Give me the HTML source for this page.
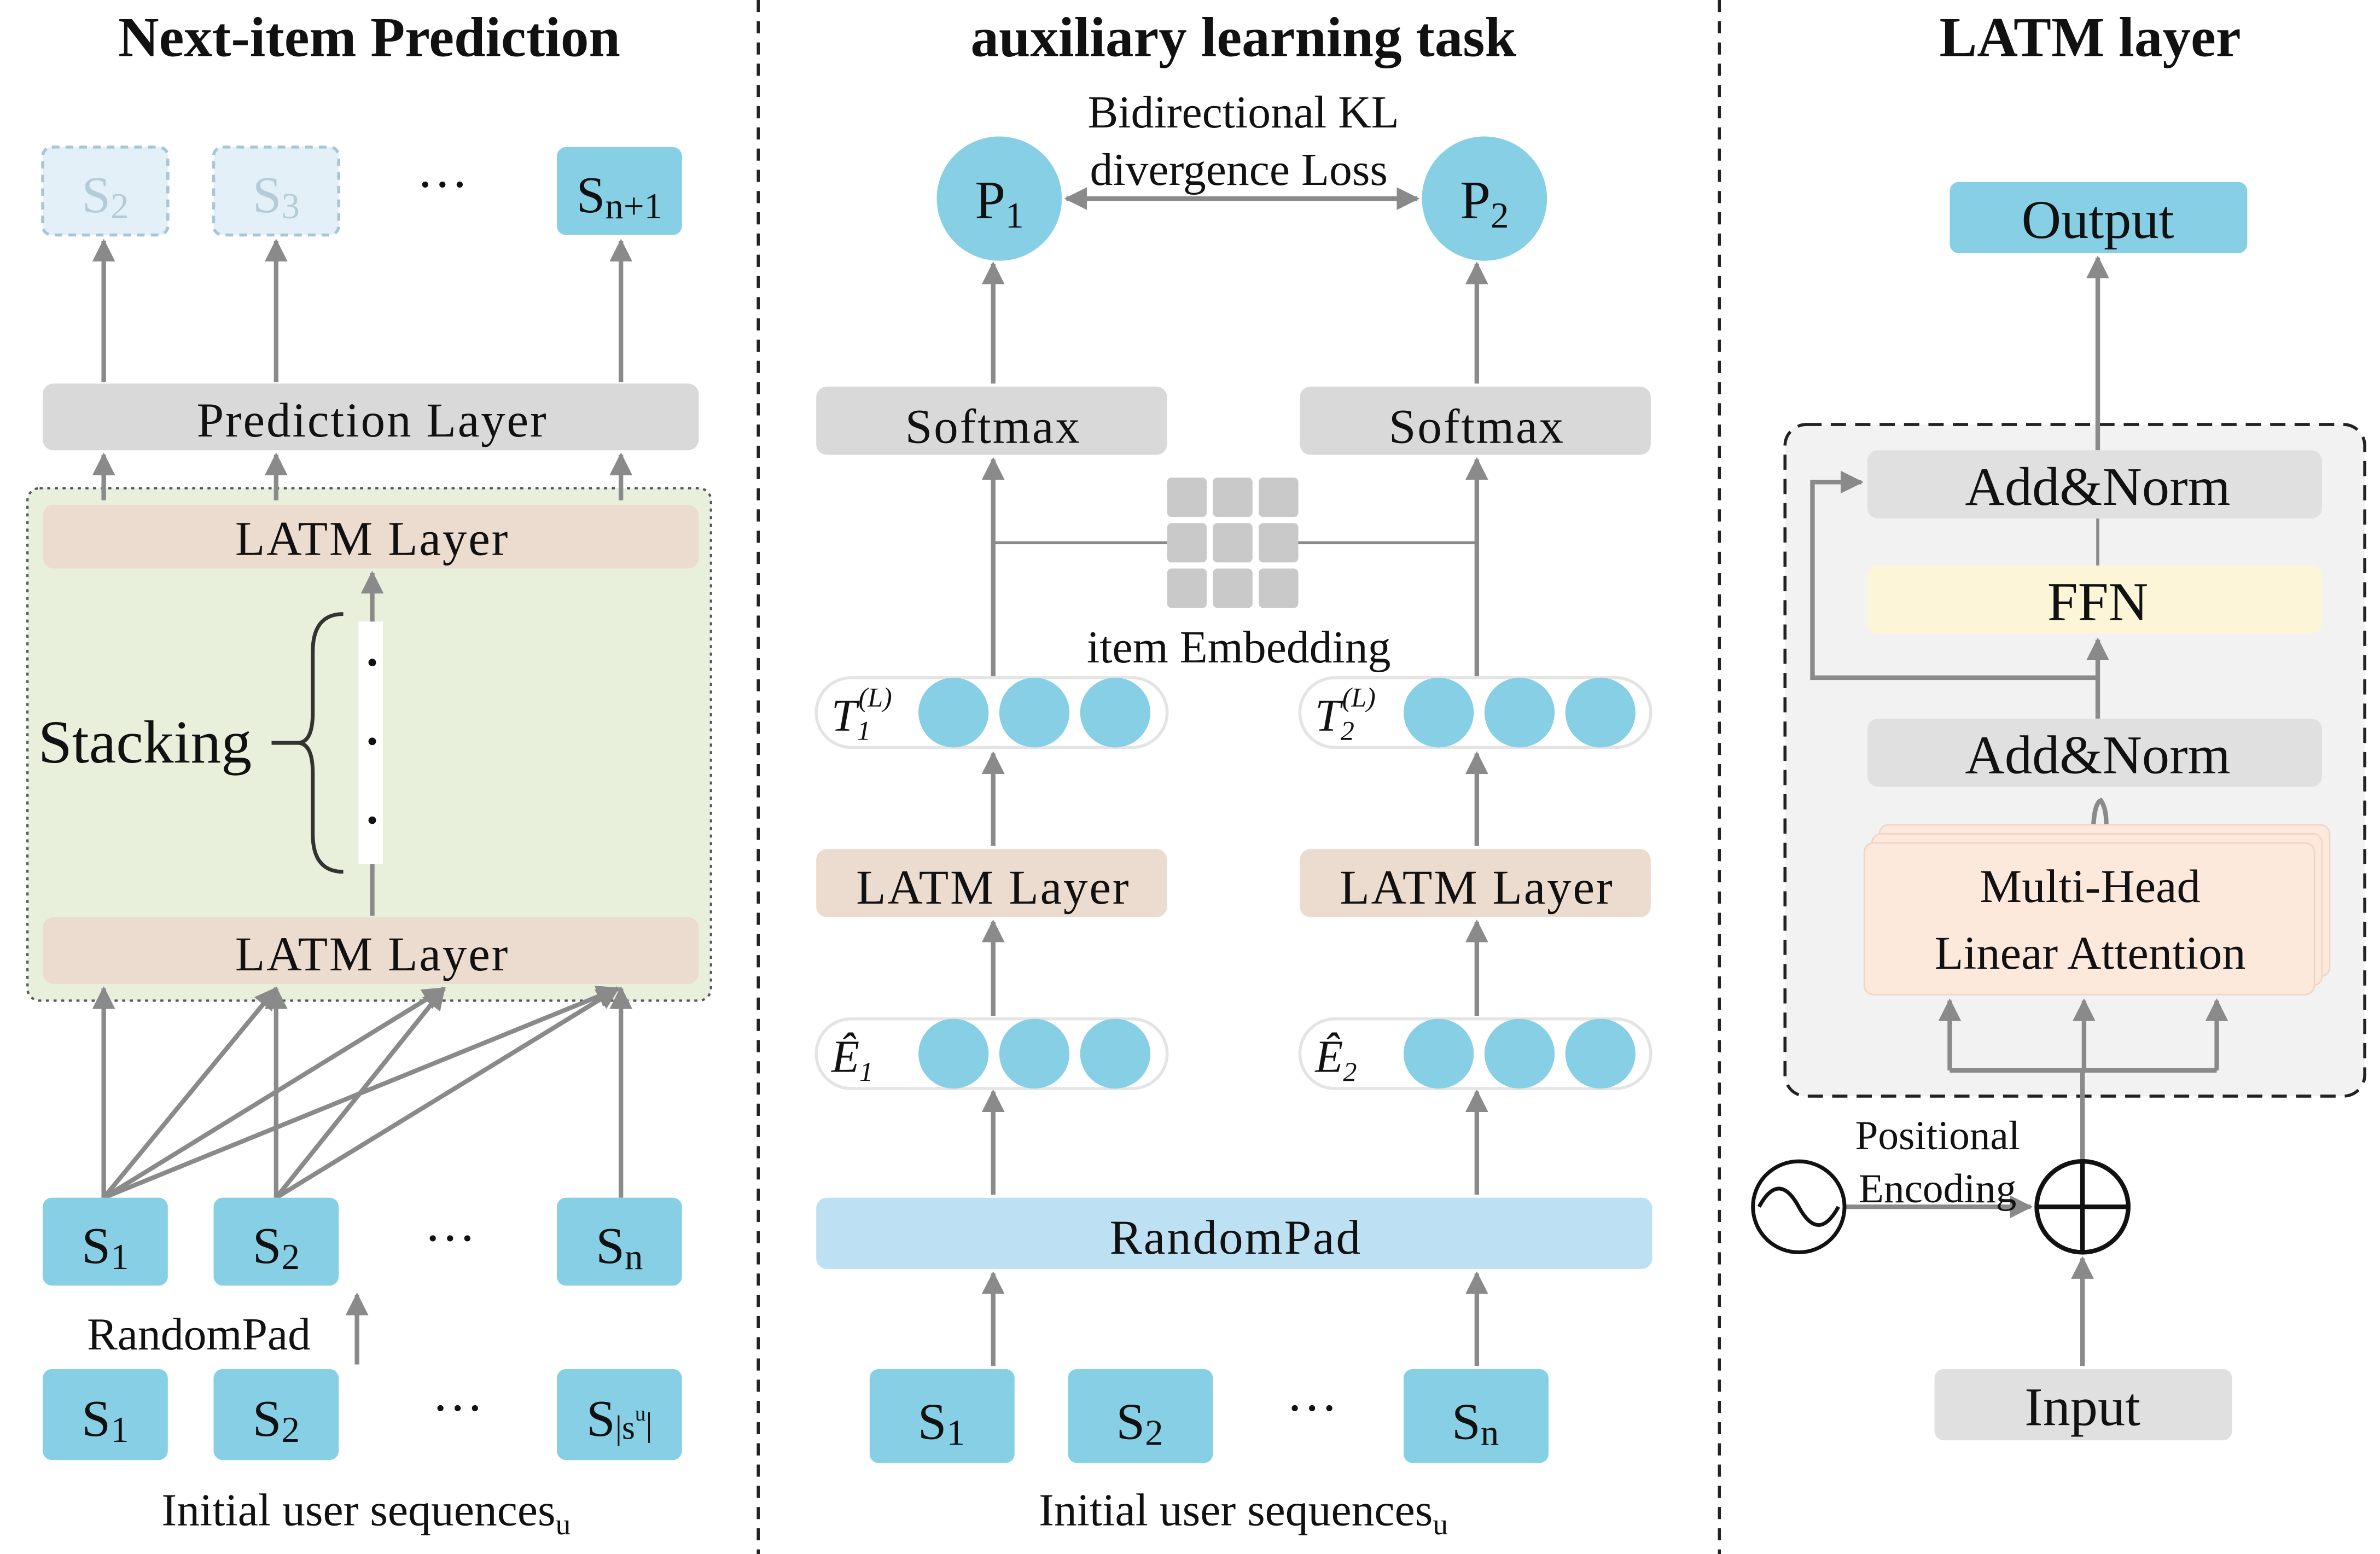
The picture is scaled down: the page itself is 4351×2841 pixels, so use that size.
<!DOCTYPE html>
<html><head><meta charset="utf-8"><style>
html,body{margin:0;padding:0;background:#fff;}
svg{display:block;}
text{font-family:"Liberation Serif",serif;fill:#111;}
</style></head><body>
<svg width="4351" height="2841" viewBox="0 0 1560 1025" preserveAspectRatio="none" xmlns="http://www.w3.org/2000/svg">
<defs>
<marker id="a" viewBox="0 0 10 10" refX="9" refY="5" markerWidth="5" markerHeight="5" orient="auto-start-reverse"><path d="M0,0 L10,5 L0,10 z" fill="#8a8a8a"/></marker>
</defs>
<rect width="1560" height="1025" fill="#fff"/>
<g stroke="#222" stroke-width="2" stroke-dasharray="8,6"><line x1="497" y1="0" x2="497" y2="1025"/><line x1="1127" y1="0" x2="1127" y2="1025"/></g>

<!-- LEFT -->
<text x="242" y="37" font-size="37" font-weight="bold" text-anchor="middle">Next-item Prediction</text>
<g stroke="#a9c6d6" stroke-width="2" stroke-dasharray="5,4" fill="#e3f0f7"><rect x="28" y="97" width="82" height="58" rx="6"/><rect x="140" y="97" width="82" height="58" rx="6"/></g>
<text x="69" y="140" font-size="34" text-anchor="middle" style="fill:#b5ccd8">S<tspan font-size="24" dy="4">2</tspan></text>
<text x="181" y="140" font-size="34" text-anchor="middle" style="fill:#b5ccd8">S<tspan font-size="24" dy="4">3</tspan></text>
<text x="290" y="133" font-size="34" text-anchor="middle">···</text>
<rect x="365" y="97" width="82" height="58" rx="6" fill="#87cfe4"/>
<text x="406" y="140" font-size="34" text-anchor="middle">S<tspan font-size="24" dy="4">n+1</tspan></text>
<g stroke="#8a8a8a" stroke-width="3" marker-end="url(#a)"><line x1="68" y1="252" x2="68" y2="159"/><line x1="181" y1="252" x2="181" y2="159"/><line x1="407" y1="252" x2="407" y2="159"/></g>
<rect x="28" y="253" width="430" height="44" rx="7" fill="#d9d9d9"/>
<text x="244" y="288" font-size="32" text-anchor="middle" letter-spacing="1">Prediction Layer</text>
<rect x="18" y="322" width="448" height="338" rx="8" fill="#e8f0dc" stroke="#555" stroke-width="1.5" stroke-dasharray="2,3"/>
<g stroke="#8a8a8a" stroke-width="3" marker-end="url(#a)"><line x1="68" y1="330" x2="68" y2="300"/><line x1="181" y1="330" x2="181" y2="300"/><line x1="407" y1="330" x2="407" y2="300"/></g>
<rect x="28" y="333" width="430" height="42" rx="7" fill="#ecdcd0"/>
<text x="244" y="366" font-size="32" text-anchor="middle" letter-spacing="1">LATM Layer</text>
<text x="25" y="503" font-size="40">Stacking</text>
<path d="M178,490 L200,490 M225,405 Q205,405 205,430 L205,470 Q205,490 195,490 Q205,490 205,510 L205,550 Q205,575 225,575" stroke="#333" stroke-width="2.5" fill="none"/>
<line x1="244" y1="604" x2="244" y2="378" stroke="#8a8a8a" stroke-width="3" marker-end="url(#a)"/>
<rect x="235" y="410" width="16" height="160" fill="#fff"/>
<g fill="#111"><circle cx="244" cy="437" r="2.5"/><circle cx="244" cy="489" r="2.5"/><circle cx="244" cy="541" r="2.5"/></g>
<rect x="28" y="605" width="430" height="44" rx="7" fill="#ecdcd0"/>
<text x="244" y="640" font-size="32" text-anchor="middle" letter-spacing="1">LATM Layer</text>
<g stroke="#8a8a8a" stroke-width="3" marker-end="url(#a)">
<line x1="68" y1="790" x2="68" y2="652"/><line x1="68" y1="790" x2="181" y2="652"/><line x1="68" y1="790" x2="291" y2="652"/><line x1="68" y1="790" x2="405" y2="652"/>
<line x1="181" y1="790" x2="181" y2="652"/><line x1="181" y1="790" x2="291" y2="652"/><line x1="181" y1="790" x2="405" y2="652"/>
<line x1="407" y1="790" x2="407" y2="652"/>
<line x1="234" y1="900" x2="234" y2="854"/></g>
<g fill="#87cfe4"><rect x="28" y="790" width="82" height="58" rx="6"/><rect x="140" y="790" width="82" height="58" rx="6"/><rect x="365" y="790" width="82" height="58" rx="6"/>
<rect x="28" y="903" width="82" height="60" rx="6"/><rect x="140" y="903" width="82" height="60" rx="6"/><rect x="365" y="903" width="82" height="60" rx="6"/></g>
<g font-size="34" text-anchor="middle">
<text x="69" y="833">S<tspan font-size="24" dy="4">1</tspan></text><text x="181" y="833">S<tspan font-size="24" dy="4">2</tspan></text><text x="295" y="828">···</text><text x="406" y="833">S<tspan font-size="24" dy="4">n</tspan></text>
<text x="69" y="947">S<tspan font-size="24" dy="4">1</tspan></text><text x="181" y="947">S<tspan font-size="24" dy="4">2</tspan></text><text x="300" y="940">···</text><text x="406" y="947">S<tspan font-size="22" dy="2">|s</tspan><tspan font-size="14" dy="-12">u</tspan><tspan font-size="22" dy="10">|</tspan></text></g>
<text x="57" y="890" font-size="30">RandomPad</text>
<text x="240" y="1006" font-size="30" text-anchor="middle">Initial user sequence<tspan>s</tspan><tspan font-size="20" dy="6">u</tspan></text>

<!-- MIDDLE -->
<text x="815" y="37" font-size="37" font-weight="bold" text-anchor="middle">auxiliary learning task</text>
<text x="815" y="84" font-size="30" text-anchor="middle">Bidirectional KL</text>
<text x="812" y="122" font-size="30" text-anchor="middle">divergence Loss</text>
<circle cx="655" cy="131" r="41" fill="#87cfe4"/><circle cx="973" cy="131" r="41" fill="#87cfe4"/>
<text x="655" y="144" font-size="36" text-anchor="middle">P<tspan font-size="24" dy="6">1</tspan></text>
<text x="973" y="144" font-size="36" text-anchor="middle">P<tspan font-size="24" dy="6">2</tspan></text>
<line x1="699" y1="131" x2="929" y2="131" stroke="#8a8a8a" stroke-width="3" marker-start="url(#a)" marker-end="url(#a)"/>
<g fill="#d9d9d9"><rect x="535" y="255" width="230" height="45" rx="7"/><rect x="852" y="255" width="230" height="45" rx="7"/></g>
<text x="651" y="292" font-size="32" text-anchor="middle" letter-spacing="1">Softmax</text>
<text x="968" y="292" font-size="32" text-anchor="middle" letter-spacing="1">Softmax</text>
<g stroke="#8a8a8a" stroke-width="3" marker-end="url(#a)">
<line x1="651" y1="253" x2="651" y2="174"/><line x1="968" y1="253" x2="968" y2="174"/>
<line x1="651" y1="447" x2="651" y2="303"/><line x1="968" y1="447" x2="968" y2="303"/>
<line x1="651" y1="558" x2="651" y2="497"/><line x1="968" y1="558" x2="968" y2="497"/>
<line x1="651" y1="670" x2="651" y2="608"/><line x1="968" y1="670" x2="968" y2="608"/>
<line x1="651" y1="788" x2="651" y2="720"/><line x1="968" y1="788" x2="968" y2="720"/>
<line x1="651" y1="901" x2="651" y2="840"/><line x1="968" y1="901" x2="968" y2="840"/></g>
<g stroke="#8a8a8a" stroke-width="2"><line x1="651" y1="358" x2="765" y2="358"/><line x1="851" y1="358" x2="968" y2="358"/></g>
<g fill="#c9c9c9">
<rect x="765" y="315" width="26" height="26" rx="3"/><rect x="795" y="315" width="26" height="26" rx="3"/><rect x="825" y="315" width="26" height="26" rx="3"/>
<rect x="765" y="345" width="26" height="26" rx="3"/><rect x="795" y="345" width="26" height="26" rx="3"/><rect x="825" y="345" width="26" height="26" rx="3"/>
<rect x="765" y="375" width="26" height="26" rx="3"/><rect x="795" y="375" width="26" height="26" rx="3"/><rect x="825" y="375" width="26" height="26" rx="3"/></g>
<text x="812" y="437" font-size="30" text-anchor="middle">item Embedding</text>
<g fill="#fff" stroke="#e4e4e4" stroke-width="2"><rect x="535" y="447" width="230" height="46" rx="23"/><rect x="852" y="447" width="230" height="46" rx="23"/><rect x="535" y="672" width="230" height="46" rx="23"/><rect x="852" y="672" width="230" height="46" rx="23"/></g>
<g fill="#87cfe4">
<circle cx="625" cy="470" r="23"/><circle cx="678" cy="470" r="23"/><circle cx="731" cy="470" r="23"/>
<circle cx="943" cy="470" r="23"/><circle cx="996" cy="470" r="23"/><circle cx="1049" cy="470" r="23"/>
<circle cx="625" cy="695" r="23"/><circle cx="678" cy="695" r="23"/><circle cx="731" cy="695" r="23"/>
<circle cx="943" cy="695" r="23"/><circle cx="996" cy="695" r="23"/><circle cx="1049" cy="695" r="23"/></g>
<g font-size="30" font-style="italic">
<text x="545" y="482">T<tspan font-size="18" dy="6">1</tspan><tspan font-size="18" dx="-8" dy="-22">(L)</tspan></text>
<text x="862" y="482">T<tspan font-size="18" dy="6">2</tspan><tspan font-size="18" dx="-8" dy="-22">(L)</tspan></text>
<text x="545" y="707">Ê<tspan font-size="18" dy="6">1</tspan></text>
<text x="862" y="707">Ê<tspan font-size="18" dy="6">2</tspan></text></g>
<g fill="#ecdcd0"><rect x="535" y="560" width="230" height="45" rx="7"/><rect x="852" y="560" width="230" height="45" rx="7"/></g>
<text x="651" y="596" font-size="32" text-anchor="middle" letter-spacing="1">LATM Layer</text>
<text x="968" y="596" font-size="32" text-anchor="middle" letter-spacing="1">LATM Layer</text>
<rect x="535" y="790" width="548" height="47" rx="7" fill="#bde0f2"/>
<text x="810" y="827" font-size="32" text-anchor="middle" letter-spacing="1">RandomPad</text>
<g fill="#87cfe4"><rect x="570" y="903" width="95" height="62" rx="6"/><rect x="700" y="903" width="95" height="62" rx="6"/><rect x="920" y="903" width="95" height="62" rx="6"/></g>
<g font-size="34" text-anchor="middle"><text x="617" y="949">S<tspan font-size="24" dy="4">1</tspan></text><text x="747" y="949">S<tspan font-size="24" dy="4">2</tspan></text><text x="860" y="940">···</text><text x="967" y="949">S<tspan font-size="24" dy="4">n</tspan></text></g>
<text x="815" y="1006" font-size="30" text-anchor="middle">Initial user sequence<tspan>s</tspan><tspan font-size="20" dy="6">u</tspan></text>

<!-- RIGHT -->
<text x="1370" y="37" font-size="37" font-weight="bold" text-anchor="middle">LATM layer</text>
<rect x="1278" y="120" width="195" height="47" rx="6" fill="#87cfe4"/>
<text x="1375" y="157" font-size="36" text-anchor="middle">Output</text>
<rect x="1170" y="280" width="380" height="443" rx="14" fill="#f2f2f2" stroke="#222" stroke-width="2" stroke-dasharray="10,6"/>
<line x1="1375" y1="297" x2="1375" y2="170" stroke="#8a8a8a" stroke-width="3" marker-end="url(#a)"/>
<rect x="1224" y="297" width="298" height="45" rx="7" fill="#e0e0e0"/>
<text x="1375" y="333" font-size="36" text-anchor="middle">Add&amp;Norm</text>
<line x1="1375" y1="342" x2="1375" y2="373" stroke="#8a8a8a" stroke-width="2"/>
<rect x="1224" y="373" width="298" height="45" rx="7" fill="#fdf5d8"/>
<text x="1375" y="409" font-size="36" text-anchor="middle">FFN</text>
<rect x="1224" y="474" width="298" height="45" rx="7" fill="#e0e0e0"/>
<text x="1375" y="510" font-size="36" text-anchor="middle">Add&amp;Norm</text>
<g stroke="#8a8a8a" stroke-width="3" fill="none">
<line x1="1375" y1="474" x2="1375" y2="422" marker-end="url(#a)"/>
<polyline points="1375,447 1188,447 1188,318 1220,318" marker-end="url(#a)"/>
<path d="M1372,552 Q1372,530 1377,528 Q1382,535 1380,552"/>
<polyline points="1278,706 1453,706"/>
<line x1="1278" y1="706" x2="1278" y2="660" marker-end="url(#a)"/>
<line x1="1366" y1="706" x2="1366" y2="660" marker-end="url(#a)"/>
<line x1="1453" y1="706" x2="1453" y2="660" marker-end="url(#a)"/>
<line x1="1365" y1="766" x2="1365" y2="706"/>
<line x1="1365" y1="901" x2="1365" y2="830" marker-end="url(#a)"/>
<line x1="1209" y1="796" x2="1331" y2="796" marker-end="url(#a)"/></g>
<rect x="1232" y="544" width="295" height="100" rx="6" fill="#fde9dc" stroke="#f1d5c4"/>
<rect x="1227" y="550" width="295" height="100" rx="6" fill="#fde9dc" stroke="#f1d5c4"/>
<rect x="1222" y="556" width="295" height="100" rx="6" fill="#fde9dc" stroke="#f1d5c4"/>
<text x="1370" y="595" font-size="31" text-anchor="middle">Multi-Head</text>
<text x="1370" y="639" font-size="31" text-anchor="middle">Linear Attention</text>
<circle cx="1179" cy="796" r="30" fill="#fff" stroke="#111" stroke-width="2.5"/>
<path d="M1153,796 Q1166,772 1179,796 Q1192,820 1205,796" fill="none" stroke="#111" stroke-width="2.5"/>
<circle cx="1365" cy="796" r="30" fill="#fff" stroke="#111" stroke-width="3"/>
<line x1="1335" y1="796" x2="1395" y2="796" stroke="#111" stroke-width="3"/><line x1="1365" y1="766" x2="1365" y2="826" stroke="#111" stroke-width="3"/>
<text x="1270" y="758" font-size="27" text-anchor="middle">Positional</text>
<text x="1270" y="793" font-size="27" text-anchor="middle">Encoding</text>
<rect x="1268" y="903" width="195" height="47" rx="6" fill="#e0e0e0"/>
<text x="1365" y="940" font-size="36" text-anchor="middle">Input</text>
</svg>
</body></html>
